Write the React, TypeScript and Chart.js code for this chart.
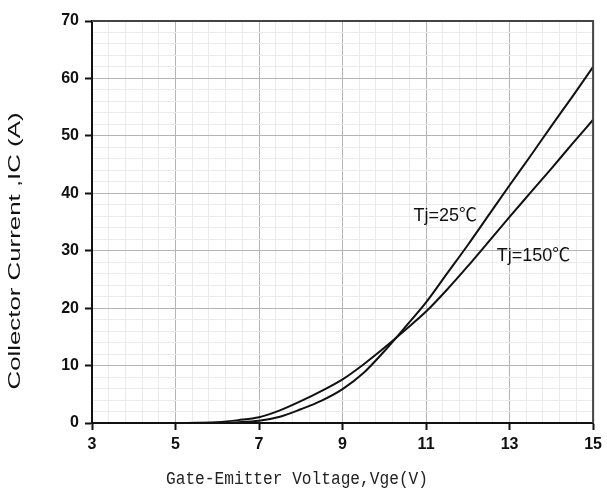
import React, { useEffect, useRef } from "react";
import { Chart, registerables } from "chart.js";

Chart.register(...registerables);

const vge = [3, 4, 5, 5.5, 6, 6.5, 7, 7.5, 8, 8.5, 9, 9.5, 10, 10.5, 11, 11.5, 12, 12.5, 13, 13.5, 14, 14.5, 15];
const ic25 = [0, 0, 0, 0.01, 0.05, 0.15, 0.4, 1.1, 2.4, 3.9, 5.9, 8.7, 12.5, 16.7, 21.0, 26.0, 31.0, 36.2, 41.4, 46.5, 51.7, 56.8, 62.0];
const ic150 = [0, 0, 0, 0.03, 0.15, 0.5, 1.0, 2.2, 3.8, 5.6, 7.6, 10.2, 13.1, 16.2, 19.4, 23.2, 27.3, 31.6, 35.9, 40.1, 44.3, 48.6, 52.8];

const xMajorTicks = [3, 5, 7, 9, 11, 13, 15];
const yMajorTicks = [0, 10, 20, 30, 40, 50, 60, 70];
const xMinorStep = 0.4;
const yMinorStep = 2;

const curveLabels = [
  { text: "Tj=25\u2103", x: 10.7, y: 36.1 },
  { text: "Tj=150\u2103", x: 12.69, y: 29.0 },
];

const xTitle = "Gate-Emitter Voltage,Vge(V)";
const yTitle = "Collector Current ,IC (A)";

function buildTicks(majors: number[], step: number): number[] {
  const out: number[] = [];
  const min = majors[0];
  const max = majors[majors.length - 1];
  const n = Math.round((max - min) / step);
  for (let k = 0; k <= n; k++) out.push(Math.round((min + k * step) * 1e6) / 1e6);
  return out;
}

function isMajor(v: number, majors: number[]) {
  return majors.some((m) => Math.abs(m - v) < 1e-6);
}

export default function App() {
  const ref = useRef<HTMLCanvasElement | null>(null);

  useEffect(() => {
    if (!ref.current) return;
    const xTickVals = buildTicks(xMajorTicks, xMinorStep);
    const yTickVals = buildTicks(yMajorTicks, yMinorStep);

    const decor = {
      id: "decor",
      afterDatasetsDraw(chart: any) {
        const { ctx, chartArea, scales } = chart;
        ctx.save();
        ctx.strokeStyle = "#444";
        ctx.lineWidth = 2;
        ctx.beginPath();
        ctx.moveTo(chartArea.left, chartArea.top);
        ctx.lineTo(chartArea.right, chartArea.top);
        ctx.lineTo(chartArea.right, chartArea.bottom);
        ctx.stroke();
        ctx.fillStyle = "#111";
        ctx.font = '18px "Liberation Sans", Arial, "Noto Sans CJK SC", sans-serif';
        ctx.textAlign = "left";
        ctx.textBaseline = "middle";
        for (const l of curveLabels) {
          ctx.fillText(l.text, scales.x.getPixelForValue(l.x), scales.y.getPixelForValue(l.y));
        }
        ctx.restore();
      },
      afterDraw(chart: any) {
        const { ctx } = chart;
        ctx.save();
        ctx.fillStyle = "#111";
        ctx.font = '16px "Liberation Sans", Arial, sans-serif';
        ctx.textAlign = "center";
        ctx.textBaseline = "middle";
        const wy = ctx.measureText(yTitle).width;
        ctx.translate(16, 251);
        ctx.rotate(-Math.PI / 2);
        ctx.scale(277 / wy, 1);
        ctx.fillText(yTitle, 0, 0);
        ctx.restore();

        ctx.save();
        ctx.fillStyle = "#222";
        ctx.font = '19px "Liberation Mono", "DejaVu Sans Mono", monospace';
        ctx.textAlign = "center";
        ctx.textBaseline = "middle";
        const wx = ctx.measureText(xTitle).width;
        ctx.translate(297, 479);
        ctx.scale(262 / wx, 1);
        ctx.fillText(xTitle, 0, 0);
        ctx.restore();
      },
    };

    const tickFont = { family: '"Liberation Sans", Arial, sans-serif', size: 16, weight: "bold" as const };

    const chart = new Chart(ref.current, {
      type: "line",
      data: {
        datasets: [
          {
            label: "Tj=25",
            data: vge.map((x, i) => ({ x, y: ic25[i] })),
            borderColor: "#111",
            borderWidth: 2,
            pointRadius: 0,
            cubicInterpolationMode: "monotone",
            fill: false,
          },
          {
            label: "Tj=150",
            data: vge.map((x, i) => ({ x, y: ic150[i] })),
            borderColor: "#111",
            borderWidth: 2,
            pointRadius: 0,
            cubicInterpolationMode: "monotone",
            fill: false,
          },
        ],
      },
      options: {
        responsive: false,
        animation: false,
        layout: { padding: { top: 21, right: 10, left: 0, bottom: 0 } },
        plugins: { legend: { display: false }, tooltip: { enabled: false }, title: { display: false } },
        scales: {
          x: {
            type: "linear",
            min: 3,
            max: 15,
            afterBuildTicks: (s: any) => {
              s.ticks = xTickVals.map((v) => ({ value: v }));
            },
            afterFit: (s: any) => {
              s.height = 68;
            },
            ticks: {
              autoSkip: false,
              maxRotation: 0,
              padding: 5,
              color: "#111",
              font: tickFont,
              callback: (v: any) => (isMajor(Number(v), xMajorTicks) ? String(Math.round(Number(v))) : ""),
            },
            grid: {
              color: (c: any) => (isMajor(c.tick?.value, xMajorTicks) ? "#b4b4b4" : "#ebebeb"),
              tickColor: (c: any) => (isMajor(c.tick?.value, xMajorTicks) ? "#111" : "rgba(0,0,0,0)"),
              tickLength: 7,
              lineWidth: 1,
              tickWidth: 2,
            },
            border: { display: true, color: "#111", width: 2 },
          },
          y: {
            type: "linear",
            min: 0,
            max: 70,
            afterBuildTicks: (s: any) => {
              s.ticks = yTickVals.map((v) => ({ value: v }));
            },
            afterFit: (s: any) => {
              s.width = 92;
            },
            ticks: {
              autoSkip: false,
              padding: 6,
              color: "#111",
              font: tickFont,
              callback: (v: any) => (isMajor(Number(v), yMajorTicks) ? String(Math.round(Number(v))) : ""),
            },
            grid: {
              color: (c: any) => (isMajor(c.tick?.value, yMajorTicks) ? "#b4b4b4" : "#ebebeb"),
              tickColor: (c: any) => (isMajor(c.tick?.value, yMajorTicks) ? "#111" : "rgba(0,0,0,0)"),
              tickLength: 7,
              lineWidth: 1,
              tickWidth: 2,
            },
            border: { display: true, color: "#111", width: 2 },
          },
        },
      },
      plugins: [decor],
    } as any);
    return () => chart.destroy();
  }, []);

  return (
    <div style={{ position: "fixed", left: 0, top: 0, width: 607, height: 491, background: "#fff" }}>
      <canvas ref={ref} width={607} height={491} />
    </div>
  );
}
